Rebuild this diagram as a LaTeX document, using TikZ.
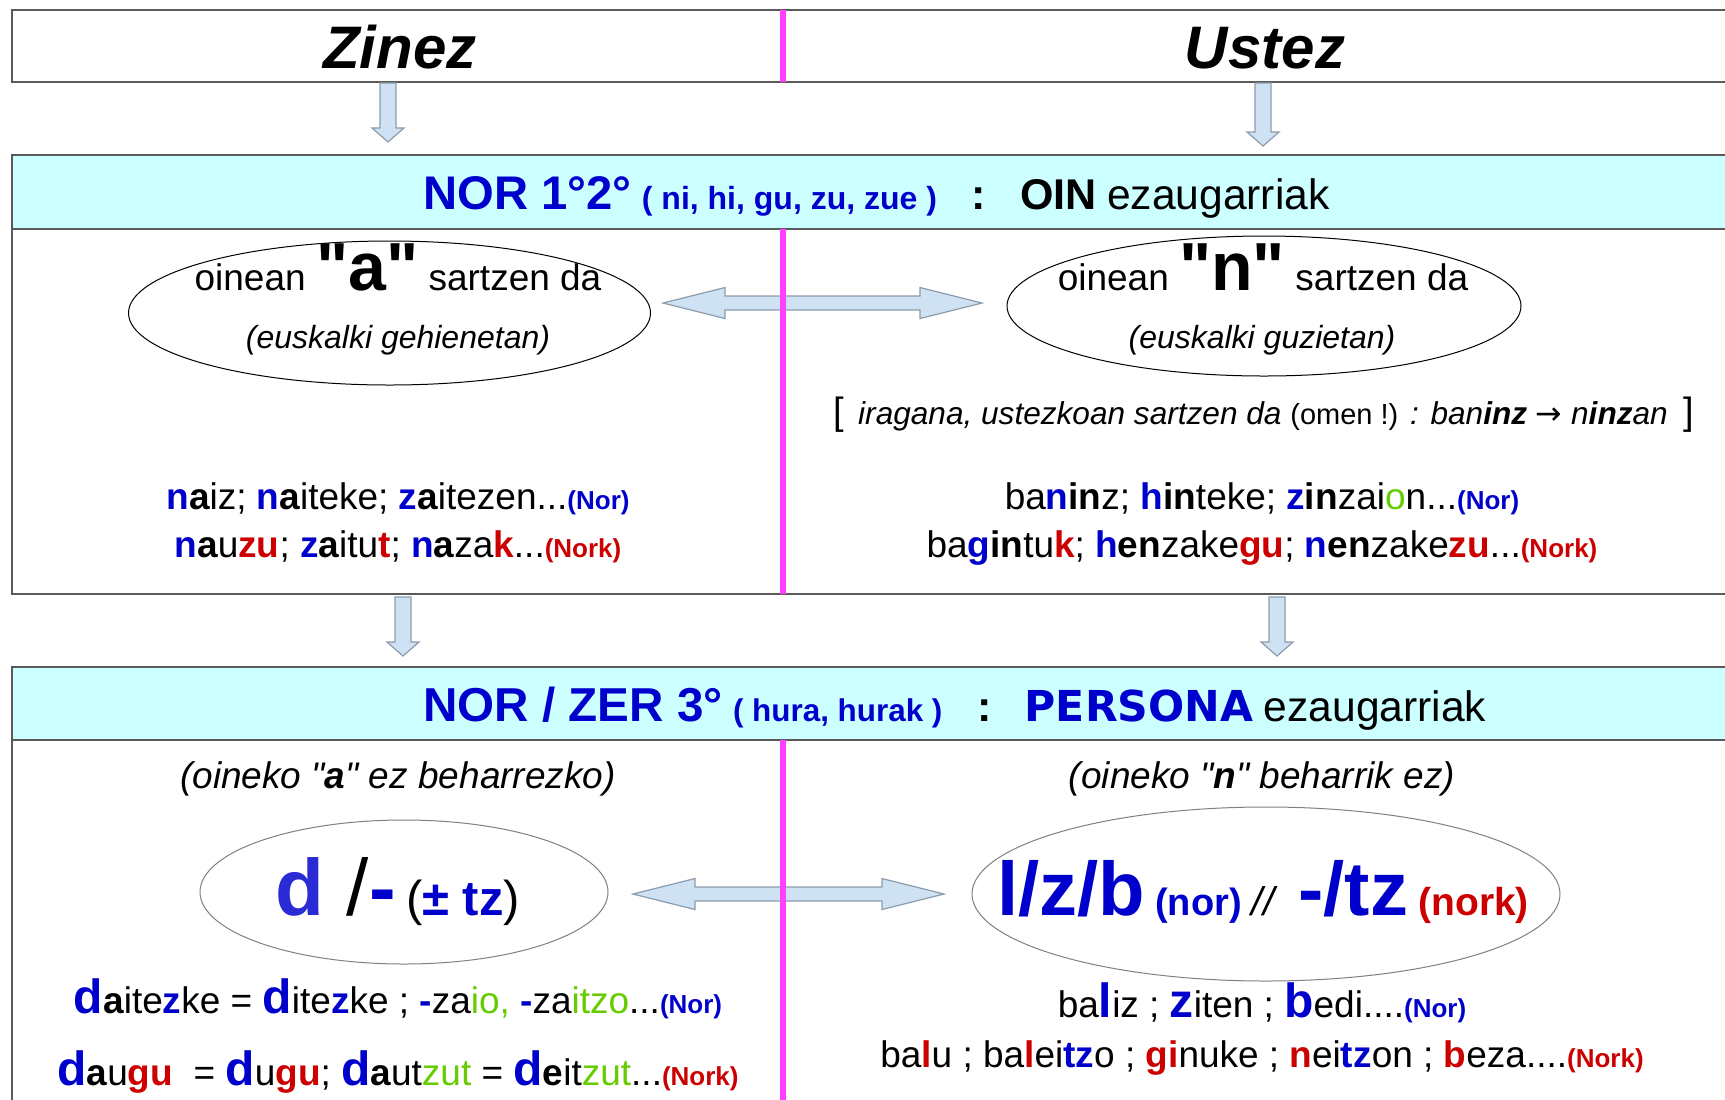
\documentclass[tikz,border=0pt]{standalone}
\usepackage{fontspec}
\setmainfont{Liberation Sans}
\newfontfamily\rawsans{Liberation Sans}
\newfontfamily\widefont{DejaVu Sans}
\newfontfamily\symfont{DejaVu Sans}
\usetikzlibrary{shapes.geometric,calc}

\definecolor{hdrcyan}{HTML}{CCFFFF}
\definecolor{magline}{HTML}{FF40FF}
\definecolor{txtblue}{HTML}{0000CC}
\definecolor{dblue}{HTML}{2B2BD6}
\definecolor{txtred}{HTML}{CC0000}
\definecolor{txtgreen}{HTML}{66CC00}
\definecolor{arrowfill}{HTML}{CFE2F3}
\definecolor{arrowline}{HTML}{8C9CAC}
\definecolor{boxline}{HTML}{5A5A5A}

% font size helper and coloured fragments
\newcommand\fsz[1]{\fontsize{#1}{#1}\selectfont}
\newcommand\Bl[1]{{\color{txtblue}\bfseries #1}}
\newcommand\Rd[1]{{\color{txtred}\bfseries #1}}
\newcommand\Gn[1]{{\color{txtgreen}#1}}
\newcommand\Bk[1]{{\bfseries #1}}
\newcommand\BigBl[1]{{\fsz{24pt}\color{txtblue}\bfseries #1}}
\newcommand\Nor{{\fsz{13pt}\color{txtblue}\bfseries(Nor)}}
\newcommand\Nork{{\fsz{13pt}\color{txtred}\bfseries(Nork)}}

% horizontal double block arrow between two tip coordinates
\newcommand\hblock[2]{%
  \draw[blockarrow] (#1) -- ($(#1)+(62,-15.5)$) -- ($(#1)+(62,-7)$)
    -- ($(#2)+(-62,-7)$) -- ($(#2)+(-62,-15.5)$) -- (#2)
    -- ($(#2)+(-62,15.5)$) -- ($(#2)+(-62,7)$) -- ($(#1)+(62,7)$)
    -- ($(#1)+(62,15.5)$) -- cycle;}
% vertical block arrow from a start coordinate down to a tip coordinate
\newcommand\vblock[2]{%
  \draw[blockarrow] ($(#1)+(-8,0)$) -- ($(#1)+(8,0)$) -- ($(#2)+(8,-14)$)
    -- ($(#2)+(16,-14)$) -- (#2) -- ($(#2)+(-16,-14)$) -- ($(#2)+(-8,-14)$) -- cycle;}

\tikzset{
  txt/.style={inner sep=0pt, anchor=base, font=\fsz{18.5pt}},
  frame/.style={draw=boxline, line width=1pt},
  header/.style={frame, fill=hdrcyan},
  divider/.style={draw=magline, line width=2.6pt},
  blockarrow/.style={draw=arrowline, line width=0.6pt, fill=arrowfill},
  oval/.style={ellipse, draw=black, line width=0.5pt, inner sep=0pt},
  greyoval/.style={oval, draw=black!50},
}

\begin{document}
\begin{tikzpicture}[x=0.5pt, y=-0.5pt]
\useasboundingbox (0,0) rectangle (1725,1099);
\begin{scope}
\clip (0,0) rectangle (1725,1099);
\fill[white] (0,0) rectangle (1725,1099);

% frames
\draw[frame] (12,10) rectangle (1745,82);
\draw[header] (12,155) rectangle (1745,229);
\draw[frame] (12,229) rectangle (1745,594);
\draw[header] (12,667) rectangle (1745,740);
\draw[frame] (12,740) rectangle (1745,1120);

% ovals
\node[oval, minimum width=261pt, minimum height=72pt] (ell1) at (389.5,313) {};
\node[oval, minimum width=257pt, minimum height=70pt] (ell2) at (1264,306) {};
\node[greyoval, minimum width=204pt, minimum height=72pt] (ell3) at (404,892) {};
\node[greyoval, minimum width=294pt, minimum height=87pt] (ell4) at (1266,894) {};

% arrows
\coordinate (tipA) at (663,303);  \coordinate (tipB) at (982,303);
\coordinate (tipC) at (633,894);  \coordinate (tipD) at (944,894);
\hblock{tipA}{tipB}
\hblock{tipC}{tipD}
\coordinate (srcL1) at (388,83);  \coordinate (dstL1) at (388,142);
\coordinate (srcR1) at (1263,83); \coordinate (dstR1) at (1263,146);
\coordinate (srcL2) at (403,597); \coordinate (dstL2) at (403,656);
\coordinate (srcR2) at (1277,597);\coordinate (dstR2) at (1277,656);
\vblock{srcL1}{dstL1}
\vblock{srcR1}{dstR1}
\vblock{srcL2}{dstL2}
\vblock{srcR2}{dstR2}

% column dividers
\draw[divider] (783,10) -- (783,82);
\draw[divider] (783,229) -- (783,594);
\draw[divider] (783,740) -- (783,1120);

% column titles
\node[txt] (zinez) at (400,68) {\fsz{30pt}\bfseries\itshape Zinez};
\node[txt] (ustez) at (1265,68) {\fsz{30pt}\bfseries\itshape Ustez};

% first header
\node[txt, anchor=base west] (hdr1) at (423,209) {%
  {\fsz{23.6pt}\Bl{NOR 1°2°}} {\fsz{16pt}\Bl{( ni, hi, gu, zu, zue )}}%
  \hspace{17pt}{\fsz{21.5pt}\bfseries :}\hspace{17.5pt}%
  {\fsz{21.5pt}\bfseries OIN} {\fsz{21.3pt}ezaugarriak}};

% oval texts
\node[txt] (ell1a) at (398,290) {\rawsans oinean {\fsz{34pt}\bfseries "a"} sartzen da};
\node[txt] (ell1b) at (398,348) {\fsz{16pt}\itshape (euskalki gehienetan)};
\node[txt] (ell2a) at (1263,290) {\rawsans oinean {\fsz{34pt}\bfseries "n"} sartzen da};
\node[txt] (ell2b) at (1262,348) {\fsz{16pt}\itshape (euskalki guzietan)};

% note on the past tense
\node[txt] (note) at (1264,424) {%
  {\fsz{19pt}[}\hspace{7pt}{\fsz{15.8pt}\itshape iragana, ustezkoan sartzen da
  {\upshape\fsz{14.5pt}(omen !)} : ban\textbf{inz} {\upshape\symfont →} n\textbf{inz}an}\hspace{8pt}{\fsz{19pt}]}};

% first-block examples
\node[txt] (exL1) at (398,509) {\Bl{n}\Bk{a}iz; \Bl{n}\Bk{a}iteke; \Bl{z}\Bk{a}itezen...\Nor};
\node[txt] (exL2) at (398,557) {\Bl{n}\Bk{a}u\Rd{zu}; \Bl{z}\Bk{a}itu\Rd{t}; \Bl{n}\Bk{a}za\Rd{k}...\Nork};
\node[txt] (exR1) at (1262,509) {ba\Bl{n}\Bk{in}z; \Bl{h}\Bk{in}teke; \Bl{z}\Bk{in}zai\Gn{o}n...\Nor};
\node[txt] (exR2) at (1262,557) {ba\Bl{g}\Bk{in}tu\Rd{k}; \Bl{h}\Bk{en}zake\Rd{gu}; \Bl{n}\Bk{en}zake\Rd{zu}...\Nork};

% second header
\node[txt, anchor=base west] (hdr2) at (423,721) {%
  {\fsz{23.8pt}\Bl{NOR / ZER 3°}} {\fsz{15.7pt}\Bl{( hura, hurak )}}%
  \hspace{17.5pt}{\fsz{21.5pt}\bfseries :}\hspace{16.5pt}%
  {\fsz{21.3pt}\widefont\bfseries\color{txtblue}PERSONA} {\fsz{21.3pt}ezaugarriak}};

% second-block remarks
\node[txt] (subL) at (398,788) {\rawsans\itshape (oineko "\textbf{a}" ez beharrezko)};
\node[txt] (subR) at (1262,788) {\rawsans\itshape (oineko "\textbf{n}" beharrik ez)};

% oval formulas
\node[txt] (ell3t) at (398,915) {%
  {\fsz{40pt}{\bfseries\color{dblue}d} /{\bfseries\color{txtblue}-}}
  {\fsz{24.5pt}(\Bl{± tz})}};
\node[txt] (ell4t) at (1263,915) {%
  {\fsz{38pt}\Bl{l/z/b}} {\fsz{19pt}\Bl{(nor)}} {\fsz{20pt}\itshape //}\hspace{7pt}
  {\fsz{38pt}\Bl{-/tz}} {\fsz{19.5pt}\Rd{(nork)}}};

% second-block examples
\node[txt] (exL3) at (398,1013) {\BigBl{d}\Bk{a}ite\Bl{z}ke = \BigBl{d}ite\Bl{z}ke ; \Bl{-}za\Gn{io,} \Bl{-}za\Gn{itzo}...\Nor};
\node[txt] (exL4) at (398,1085) {\BigBl{d}\Bk{a}u\Rd{gu}\ \ = \BigBl{d}u\Rd{gu}; \BigBl{d}\Bk{a}ut\Gn{zut} = \BigBl{d}\Bk{e}it\Gn{zut}...\Nork};
\node[txt] (exR3) at (1262,1017) {ba\BigBl{l}iz ; \BigBl{z}iten ; \BigBl{b}edi....\Nor};
\node[txt] (exR4) at (1262,1067) {ba\Rd{l}u ; ba\Rd{l}ei\Bl{tz}o ; \Rd{gi}nuke ; \Rd{n}ei\Bl{tz}on ; \Rd{b}eza....\Nork};
\end{scope}
\end{tikzpicture}
\end{document}
